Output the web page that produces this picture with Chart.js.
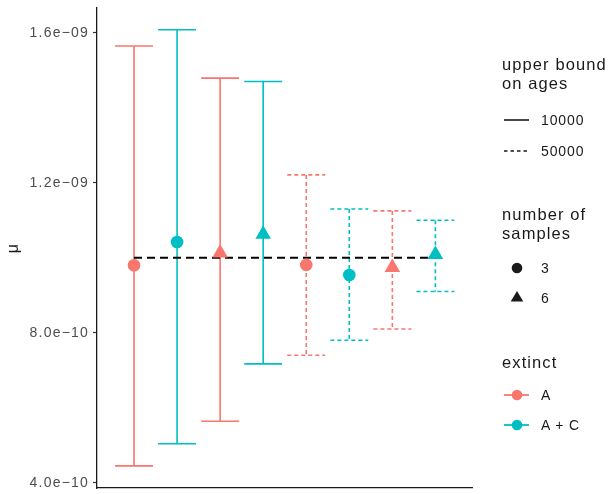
<!DOCTYPE html>
<html>
<head>
<meta charset="utf-8">
<script src="https://cdn.jsdelivr.net/npm/chart.js@4"></script>
<style>
  html, body { margin: 0; padding: 0; background: #fff; }
  #wrap { position: relative; width: 612px; height: 494px; font-family: "Liberation Sans", Arial, sans-serif; }
  #chart { position: absolute; left: 0; top: 0; }
  .ttl { position: absolute; left: 502px; font-size: 16.5px; line-height: 19px; letter-spacing: 1.1px; color: #1a1a1a; white-space: nowrap; }
  .row { position: absolute; left: 502px; height: 20px; transform: translateY(-50%); display: flex; align-items: center; }
  .row svg { width: 30px; height: 20px; }
  .row span { margin-left: 9px; font-size: 14px; line-height: 1; letter-spacing: 0.9px; color: #1a1a1a; }
</style>
</head>
<body>
<div id="wrap">
  <canvas id="chart" width="612" height="494"></canvas>
  <div id="legend"></div>
</div>
<script>
// groups
const positions = [1, 2, 3, 4, 5, 6, 7, 8];
const extinct = ['A', 'A + C', 'A', 'A + C', 'A', 'A + C', 'A', 'A + C'];
const upperBound = [10000, 10000, 10000, 10000, 50000, 50000, 50000, 50000];
const nSamples = [3, 3, 6, 6, 3, 3, 6, 6];

// estimates and intervals
const mu = [9.80e-10, 1.042e-9, 1.0125e-9, 1.063e-9, 9.81e-10, 9.54e-10, 9.74e-10, 1.009e-9];
const lower = [4.45e-10, 5.04e-10, 5.64e-10, 7.17e-10, 7.40e-10, 7.80e-10, 8.10e-10, 9.10e-10];
const upper = [1.5645e-9, 1.608e-9, 1.479e-9, 1.470e-9, 1.221e-9, 1.130e-9, 1.125e-9, 1.100e-9];
const trueMu = 1e-9;

// axis
const yTicks = [4e-10, 8e-10, 1.2e-9, 1.6e-9];
const yTickLabels = ['4.0e\u221210', '8.0e\u221210', '1.2e\u221209', '1.6e\u221209'];

const colors = { 'A': '#F8766D', 'A + C': '#00BFC4' };
const dashes = { 10000: [], 50000: [4, 3] };
const shapes = { 3: 'circle', 6: 'triangle' };
const capHalf = 0.44;

const datasets = [];

// error bars: top cap, stem, bottom cap, split by gaps
positions.forEach((x, i) => {
  datasets.push({
    type: 'line',
    data: [
      { x: x - capHalf, y: upper[i] }, { x: x + capHalf, y: upper[i] }, { x: x, y: null },
      { x: x, y: upper[i] }, { x: x, y: lower[i] }, { x: x, y: null },
      { x: x - capHalf, y: lower[i] }, { x: x + capHalf, y: lower[i] }
    ],
    borderColor: colors[extinct[i]],
    borderWidth: 1.6,
    borderDash: dashes[upperBound[i]],
    pointRadius: 0,
    spanGaps: false,
    order: 3
  });
});

// reference line at the true value
datasets.push({
  type: 'line',
  data: [{ x: positions[0], y: trueMu }, { x: positions[positions.length - 1], y: trueMu }],
  borderColor: '#000',
  borderWidth: 2,
  borderDash: [8, 5],
  pointRadius: 0,
  order: 2
});

// point estimates
datasets.push({
  type: 'scatter',
  data: positions.map((x, i) => ({ x: x, y: mu[i] })),
  pointStyle: nSamples.map(n => shapes[n]),
  pointRadius: nSamples.map(n => n === 3 ? 6.3 : 9),
  pointBackgroundColor: extinct.map(e => colors[e]),
  pointBorderColor: extinct.map(e => colors[e]),
  pointBorderWidth: 0,
  order: 1
});

const spacing = {
  id: 'spacing',
  beforeDraw(chart) { chart.ctx.letterSpacing = '1.2px'; }
};

new Chart(document.getElementById('chart'), {
  data: { datasets },
  options: {
    responsive: false,
    animation: false,
    layout: { autoPadding: false, padding: { left: 0, right: 140, top: 8, bottom: 0 } },
    plugins: { legend: { display: false }, tooltip: { enabled: false } },
    scales: {
      x: {
        type: 'linear',
        min: 0.14,
        max: 8.85,
        ticks: { display: false },
        grid: { display: false, drawTicks: false },
        border: { display: true, color: '#1a1a1a', width: 1.3 },
        afterFit: s => { s.height = 6; s.paddingLeft = 0; s.paddingRight = 0; }
      },
      y: {
        type: 'linear',
        min: 3.86e-10,
        max: 1.666e-9,
        afterBuildTicks: s => { s.ticks = yTicks.map(v => ({ value: v })); },
        ticks: {
          callback: (v) => yTickLabels[yTicks.indexOf(v)],
          color: '#4d4d4d',
          font: { family: 'Liberation Sans', size: 14 },
          padding: 4
        },
        grid: { drawOnChartArea: false, drawTicks: true, tickLength: 4, color: '#333', tickWidth: 1.2 },
        border: { display: true, color: '#1a1a1a', width: 1.3 },
        title: { display: true, text: '\u03bc', color: '#1a1a1a', font: { family: 'Liberation Sans', size: 16 }, padding: { top: 4, bottom: 0 } },
        afterFit: s => { s.width = 97; s.paddingTop = 0; s.paddingBottom = 0; }
      }
    }
  },
  plugins: [spacing]
});

// legend (html)
const legend = document.getElementById('legend');
const lineKey = dash => `<svg viewBox="0 0 30 20"><line x1="2" y1="10" x2="27" y2="10" stroke="#1a1a1a" stroke-width="1.6" stroke-dasharray="${dash.join(' ')}"/></svg>`;
const shapeKey = shape => shape === 'circle'
  ? '<svg viewBox="0 0 30 20"><circle cx="15" cy="10" r="5.3" fill="#1a1a1a"/></svg>'
  : '<svg viewBox="0 0 30 20"><polygon points="15,3 21.3,13.6 8.7,13.6" fill="#1a1a1a"/></svg>';
const colorKey = c => `<svg viewBox="0 0 30 20"><line x1="2" y1="10" x2="27" y2="10" stroke="${c}" stroke-width="1.8"/><circle cx="15" cy="10" r="5.3" fill="${c}"/></svg>`;

const titles = [
  { text: 'upper bound<br>on ages', top: 55 },
  { text: 'number of<br>samples', top: 205 },
  { text: 'extinct', top: 353 }
];
const rows = [
  { key: lineKey(dashes[10000]), label: '10000', y: 120 },
  { key: lineKey([3.5, 3]), label: '50000', y: 151 },
  { key: shapeKey(shapes[3]), label: '3', y: 268 },
  { key: shapeKey(shapes[6]), label: '6', y: 298 },
  { key: colorKey(colors['A']), label: 'A', y: 395 },
  { key: colorKey(colors['A + C']), label: 'A + C', y: 425 }
];
titles.forEach(t => {
  const d = document.createElement('div');
  d.className = 'ttl';
  d.style.top = t.top + 'px';
  d.innerHTML = t.text;
  legend.appendChild(d);
});
rows.forEach(r => {
  const d = document.createElement('div');
  d.className = 'row';
  d.style.top = r.y + 'px';
  d.innerHTML = r.key + `<span>${r.label}</span>`;
  legend.appendChild(d);
});
</script>
</body>
</html>
